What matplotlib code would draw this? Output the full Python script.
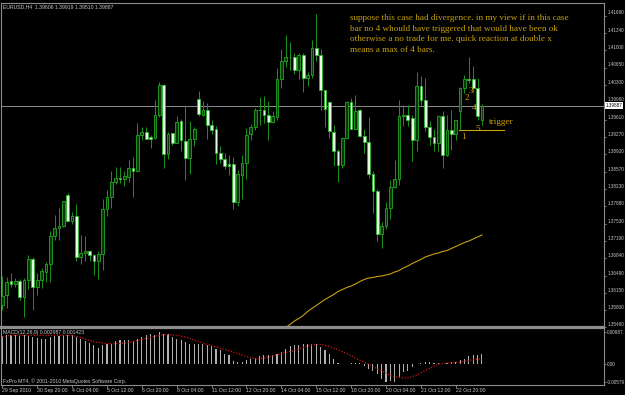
import numpy as np
import matplotlib
matplotlib.use("Agg")
import matplotlib.pyplot as plt

# EURUSD H4 candles
opens = [1.3591, 1.3611, 1.3638, 1.3632, 1.3638, 1.3607, 1.3640, 1.3683, 1.3626, 1.3640,
         1.3656, 1.3673, 1.3728, 1.3744, 1.3749, 1.3810, 1.3759, 1.3768, 1.3686, 1.3694,
         1.3699, 1.3691, 1.3679, 1.3693, 1.3782, 1.3807, 1.3837, 1.3845, 1.3843, 1.3847,
         1.3865, 1.3859, 1.3930, 1.3936, 1.3926, 1.3924, 1.3971, 1.4030, 1.3893, 1.3934,
         1.3915, 1.3958, 1.3918, 1.3885, 1.3922, 1.4003, 1.3971, 1.3981, 1.3951, 1.3942,
         1.3895, 1.3882, 1.3873, 1.3873, 1.3797, 1.3851, 1.3875, 1.3932, 1.3947, 1.3981,
         1.3980, 1.3971, 1.3957, 1.3966, 1.4042, 1.4079, 1.4087, 1.4086, 1.4061, 1.4091,
         1.4044, 1.4051, 1.4104, 1.4091, 1.4020, 1.3996, 1.3936, 1.3898, 1.3870, 1.3925,
         1.3996, 1.3943, 1.3980, 1.3928, 1.3916, 1.3853, 1.3819, 1.3733, 1.3748, 1.3785,
         1.3827, 1.3843, 1.3969, 1.3971, 1.3963, 1.3920, 1.4029, 1.4000, 1.3946, 1.3927,
         1.3914, 1.3969, 1.3890, 1.3940, 1.3932, 1.3978, 1.4024, 1.4042, 1.4042, 1.4024,
         1.39606]
highs = [1.3649, 1.3646, 1.3655, 1.3644, 1.3643, 1.3644, 1.3691, 1.3686, 1.3655, 1.3664,
         1.3676, 1.3739, 1.3771, 1.3784, 1.3799, 1.3814, 1.3777, 1.3792, 1.3731, 1.3728,
         1.3701, 1.3692, 1.3699, 1.3802, 1.3821, 1.3859, 1.3866, 1.3866, 1.3859, 1.3880,
         1.3887, 1.3955, 1.3947, 1.3947, 1.3930, 1.4001, 1.4037, 1.4033, 1.3936, 1.3935,
         1.3969, 1.3963, 1.3991, 1.3959, 1.3946, 1.4019, 1.3999, 1.3995, 1.3961, 1.3949,
         1.3908, 1.3894, 1.3890, 1.3886, 1.3860, 1.3890, 1.3945, 1.3953, 1.3985, 1.4007,
         1.4009, 1.3999, 1.3978, 1.4064, 1.4102, 1.4131, 1.4117, 1.4094, 1.4094, 1.4095,
         1.4057, 1.4121, 1.4172, 1.4102, 1.4021, 1.3998, 1.3950, 1.3903, 1.3927, 1.3998,
         1.4005, 1.4011, 1.3983, 1.3943, 1.3966, 1.3859, 1.3822, 1.3756, 1.3797, 1.3841,
         1.3880, 1.4000, 1.3991, 1.3991, 1.3971, 1.4057, 1.4048, 1.4044, 1.3958, 1.3942,
         1.3971, 1.3978, 1.3971, 1.3980, 1.3961, 1.4027, 1.4051, 1.4087, 1.4069, 1.4044,
         1.39919]
lows = [1.3581, 1.3585, 1.3626, 1.3626, 1.3600, 1.3567, 1.3623, 1.3580, 1.3610, 1.3624,
        1.3636, 1.3636, 1.3721, 1.3721, 1.3747, 1.3758, 1.3752, 1.3679, 1.3673, 1.3679,
        1.3679, 1.3651, 1.3643, 1.3661, 1.3769, 1.3785, 1.3832, 1.3835, 1.3829, 1.3837,
        1.3806, 1.3857, 1.3920, 1.3922, 1.3905, 1.3922, 1.3967, 1.3864, 1.3882, 1.3910,
        1.3914, 1.3898, 1.3840, 1.3852, 1.3908, 1.3968, 1.3968, 1.3923, 1.3932, 1.3873,
        1.3874, 1.3863, 1.3850, 1.3782, 1.3789, 1.3802, 1.3843, 1.3920, 1.3940, 1.3950,
        1.3955, 1.3920, 1.3955, 1.3961, 1.4024, 1.4067, 1.4061, 1.4053, 1.4042, 1.4016,
        1.4029, 1.4044, 1.4079, 1.3980, 1.3947, 1.3925, 1.3869, 1.3837, 1.3865, 1.3923,
        1.3942, 1.3942, 1.3927, 1.3894, 1.3845, 1.3774, 1.3719, 1.3704, 1.3743, 1.3762,
        1.3825, 1.3830, 1.3949, 1.3949, 1.3878, 1.3898, 1.3991, 1.3938, 1.3910, 1.3898,
        1.3898, 1.3865, 1.3888, 1.3900, 1.3920, 1.3940, 1.4014, 1.4034, 1.4017, 1.3960,
        1.39510]
closes = [1.3609, 1.3636, 1.3633, 1.3638, 1.3607, 1.3640, 1.3683, 1.3626, 1.3641, 1.3658,
          1.3673, 1.3728, 1.3744, 1.3749, 1.3798, 1.3759, 1.3768, 1.3686, 1.3695, 1.3698,
          1.3691, 1.3679, 1.3693, 1.3782, 1.3807, 1.3837, 1.3845, 1.3843, 1.3848, 1.3865,
          1.3859, 1.3930, 1.3937, 1.3923, 1.3923, 1.3971, 1.4030, 1.3893, 1.3933, 1.3915,
          1.3957, 1.3920, 1.3885, 1.3922, 1.3943, 1.3973, 1.3981, 1.3951, 1.3940, 1.3894,
          1.3882, 1.3869, 1.3869, 1.3797, 1.3852, 1.3874, 1.3930, 1.3947, 1.3980, 1.3980,
          1.3971, 1.3957, 1.3969, 1.4042, 1.4079, 1.4086, 1.4086, 1.4061, 1.4091, 1.4044,
          1.4051, 1.4104, 1.4091, 1.4020, 1.3983, 1.3938, 1.3898, 1.3870, 1.3925, 1.3996,
          1.3943, 1.3979, 1.3928, 1.3916, 1.3853, 1.3819, 1.3733, 1.3748, 1.3785, 1.3827,
          1.3843, 1.3969, 1.3971, 1.3960, 1.3920, 1.4029, 1.4000, 1.3947, 1.3927, 1.3914,
          1.3969, 1.3890, 1.3940, 1.3932, 1.3960, 1.4024, 1.4042, 1.4041, 1.4024, 1.3968,
          1.39887]

# moving average (only the visible part, from bar 65 on)
ma_start = 65
ma = [1.3545, 1.3551, 1.3558, 1.3563, 1.3569, 1.3577, 1.3583, 1.3589, 1.3595, 1.3601,
      1.3606, 1.3611, 1.3617, 1.3621, 1.3625, 1.3628, 1.3632, 1.3637, 1.3641, 1.3644,
      1.3645, 1.3647, 1.3648, 1.3650, 1.3652, 1.3656, 1.3659, 1.3664, 1.3668, 1.3673,
      1.3677, 1.3681, 1.3686, 1.3689, 1.3692, 1.3694, 1.3697, 1.3699, 1.3703, 1.3707,
      1.3711, 1.3715, 1.3718, 1.3722, 1.3726, 1.3730]

# MACD(12,26,9) main (histogram) and signal
macd = [0.00851, 0.00882, 0.00882, 0.00882, 0.00861, 0.00882, 0.00882, 0.00830, 0.00798, 0.00777,
        0.00777, 0.00830, 0.00851, 0.00861, 0.00882, 0.00882, 0.00882, 0.00830, 0.00777, 0.00704,
        0.00641, 0.00567, 0.00483, 0.00567, 0.00620, 0.00620, 0.00693, 0.00725, 0.00746, 0.00725,
        0.00693, 0.00777, 0.00830, 0.00882, 0.00914, 0.00882, 0.00987, 0.00935, 0.00914, 0.00830,
        0.00777, 0.00725, 0.00672, 0.00620, 0.00620, 0.00599, 0.00599, 0.00567, 0.00536, 0.00462,
        0.00410, 0.00305, 0.00252, 0.00074, 0.00042, 0.00042, 0.00095, 0.00126, 0.00179, 0.00221,
        0.00252, 0.00273, 0.00252, 0.00305, 0.00357, 0.00462, 0.00536, 0.00567, 0.00588, 0.00599,
        0.00599, 0.00599, 0.00620, 0.00515, 0.00431, 0.00305, 0.00147, 0.00011, -0.00011, -0.00011,
        0.00011, 0.00021, 0.00011, -0.00063, -0.00168, -0.00221, -0.00326, -0.00483, -0.00579, -0.00536,
        -0.00579, -0.00431, -0.00273, -0.00221, -0.00116, -0.00011, 0.00021, 0.00042, 0.00042, 0.00021,
        0.00011, 0.00011, 0.00021, 0.00032, 0.00042, 0.00095, 0.00147, 0.00221, 0.00273, 0.00252,
        0.002987]
signal = [0.00830, 0.00861, 0.00882, 0.00882, 0.00882, 0.00882, 0.00882, 0.00882, 0.00882, 0.00882,
          0.00882, 0.00882, 0.00882, 0.00882, 0.00882, 0.00882, 0.00872, 0.00851, 0.00819, 0.00767,
          0.00725, 0.00683, 0.00662, 0.00641, 0.00620, 0.00620, 0.00620, 0.00630, 0.00641, 0.00662,
          0.00693, 0.00725, 0.00756, 0.00788, 0.00819, 0.00851, 0.00882, 0.00903, 0.00903, 0.00893,
          0.00882, 0.00861, 0.00830, 0.00788, 0.00735, 0.00693, 0.00641, 0.00599, 0.00557, 0.00525,
          0.00483, 0.00441, 0.00399, 0.00357, 0.00315, 0.00263, 0.00221, 0.00179, 0.00147, 0.00147,
          0.00168, 0.00200, 0.00242, 0.00273, 0.00305, 0.00347, 0.00378, 0.00410, 0.00452, 0.00504,
          0.00546, 0.00578, 0.00599, 0.00599, 0.00567, 0.00536, 0.00483, 0.00431, 0.00368, 0.00305,
          0.00242, 0.00168, 0.00105, 0.00042, -0.00021, -0.00084, -0.00168, -0.00242, -0.00305, -0.00368,
          -0.00410, -0.00431, -0.00452, -0.00452, -0.00410, -0.00357, -0.00294, -0.00221, -0.00158, -0.00084,
          -0.00021, 0.00000, 0.00011, 0.00021, 0.00032, 0.00042, 0.00074, 0.00095, 0.00116, 0.00137,
          0.001423]

price_ticks = [1.41690, 1.41340, 1.41000, 1.40650, 1.40300, 1.39960, 1.39610, 1.39270, 1.38920,
               1.38570, 1.38230, 1.37880, 1.37530, 1.37190, 1.36840, 1.36490, 1.36150, 1.35800, 1.35460]
macd_ticks = [0.00987, 0.0, -0.00579]
macd_tick_labels = ["0.00987", "0.00", "-0.00579"]
date_labels = ["29 Sep 2010", "30 Sep 20:00", "4 Oct 04:00", "5 Oct 12:00", "6 Oct 20:00",
               "8 Oct 04:00", "11 Oct 12:00", "12 Oct 20:00", "14 Oct 04:00", "15 Oct 12:00",
               "18 Oct 20:00", "20 Oct 04:00", "21 Oct 12:00", "22 Oct 20:00"]
date_step = 8

# user drawn objects
note_lines = ["suppose this case had divergence. in my view if in this case",
              "bar no 4 whould have triggered that would have been ok",
              "otherwise a no trade for me. quick reaction at double x",
              "means a max of 4 bars."]
bar_marks = [("1", 105.7, 1.3926), ("2", 106.6, 1.4003), ("3", 107.5, 1.4019),
             ("4", 108.2, 1.3985), ("5", 109.1, 1.3942)]
trigger_price = 1.3940
trigger_span = (104.7, 115.1)

GOLD = "#c9a20a"
GREY = "#8c8c8c"
TXT = "#c8c8c8"
small = dict(family="Liberation Sans", size=3.7, color=TXT)
axis_small = dict(family="Liberation Sans", size=3.3, color=TXT)

o, h, l, c = map(np.array, (opens, highs, lows, closes))
x = np.arange(len(o))
up = c >= o

fig = plt.figure(figsize=(6.25, 3.95), dpi=100, facecolor="black")
ax = fig.add_axes([1 / 625, 1 - 327 / 395, 603 / 625, 324 / 395], facecolor="black")
ax2 = fig.add_axes([1 / 625, 1 - 385 / 395, 603 / 625, 57 / 395], facecolor="black")

# candles
ax.vlines(x, l, h, color="#1a941a", lw=0.7, zorder=2)
body_lo = np.minimum(o, c)
body_h = np.maximum(np.abs(c - o), 0.00004)
ax.bar(x[up], body_h[up], bottom=body_lo[up], width=0.62, color="#0b360b",
       edgecolor="#22a822", lw=0.6, zorder=3)
ax.bar(x[~up], body_h[~up], bottom=body_lo[~up], width=0.62, color="#e6fbe6",
       edgecolor="#2cb82c", lw=0.6, zorder=3)

ax.plot(np.arange(ma_start, ma_start + len(ma)), ma, color="#c8a010", lw=0.8, zorder=2)
ax.axhline(c[-1], color=GREY, lw=0.7, zorder=1)

# trigger line + labels
ax.plot(trigger_span, [trigger_price, trigger_price], color=GOLD, lw=0.8, zorder=4)
for t, bx, by in bar_marks:
    ax.text(bx, by, t, color=GOLD, family="Liberation Serif", fontsize=6.7,
            ha="center", va="center", zorder=5)
ax.text(111.6, 1.3957, "trigger", color=GOLD, family="Liberation Serif", fontsize=6.7,
        ha="left", va="center")

for i, line in enumerate(note_lines):
    fig.text(350 / 625, 1 - (18 + 10.6 * i) / 395, line, color=GOLD,
             family="Liberation Serif", fontsize=6.6, ha="left", va="center")

ax.set_xlim(-0.3, 138.0)
ax.set_ylim(1.3546, 1.4194)
ax.yaxis.tick_right()
ax.set_yticks(price_ticks)
ax.set_yticklabels([f"{v:.5f}" for v in price_ticks], va="bottom", **axis_small)
ax.tick_params(axis="y", length=1.5, width=0.6, color=GREY, pad=0.8)
ax.set_xticks([])
ax.text(1.002, c[-1], f"{c[-1]:.5f}", transform=ax.get_yaxis_transform(), ha="left",
        va="center", family="Liberation Sans", fontsize=3.3, color="black",
        bbox=dict(boxstyle="square,pad=0.15", fc="white", ec="none"))
ax.text(0.003, 0.988, f"EURUSD,H4  {o[-1]:.5f} {h[-1]:.5f} {l[-1]:.5f} {c[-1]:.5f}",
        transform=ax.transAxes, ha="left", va="center", **small)

# MACD panel
ax2.bar(x, macd, width=0.26, color="#b0b0b0", zorder=2)
ax2.plot(x, signal, color="#d01414", lw=0.9, ls=(0, (1, 1.3)), zorder=3)
ax2.set_xlim(ax.get_xlim())
ax2.set_ylim(-0.00674, 0.01113)
ax2.yaxis.tick_right()
ax2.set_yticks(macd_ticks)
ax2.set_yticklabels(macd_tick_labels, **axis_small)
ax2.tick_params(axis="y", length=1.5, width=0.6, color=GREY, pad=0.8)
ax2.set_xticks(np.arange(len(date_labels)) * date_step)
ax2.set_xticklabels(date_labels, ha="left", **small)
ax2.tick_params(axis="x", length=2, width=0.6, color=GREY, pad=0.5)
ax2.text(0.003, 0.92, f"MACD(12,26,9) {macd[-1]:.6f} {signal[-1]:.6f}",
         transform=ax2.transAxes, ha="left", va="center", **small)
ax2.text(0.003, 0.07, "FxPro MT4, © 2001-2010 MetaQuotes Software Corp.",
         transform=ax2.transAxes, ha="left", va="center", **small)

for a in (ax, ax2):
    for s in a.spines.values():
        s.set_color(GREY)
        s.set_linewidth(0.8)
ax.spines["bottom"].set_linewidth(1.6)
ax2.spines["top"].set_linewidth(1.6)

fig.savefig("out.png", dpi=100, facecolor="black")
